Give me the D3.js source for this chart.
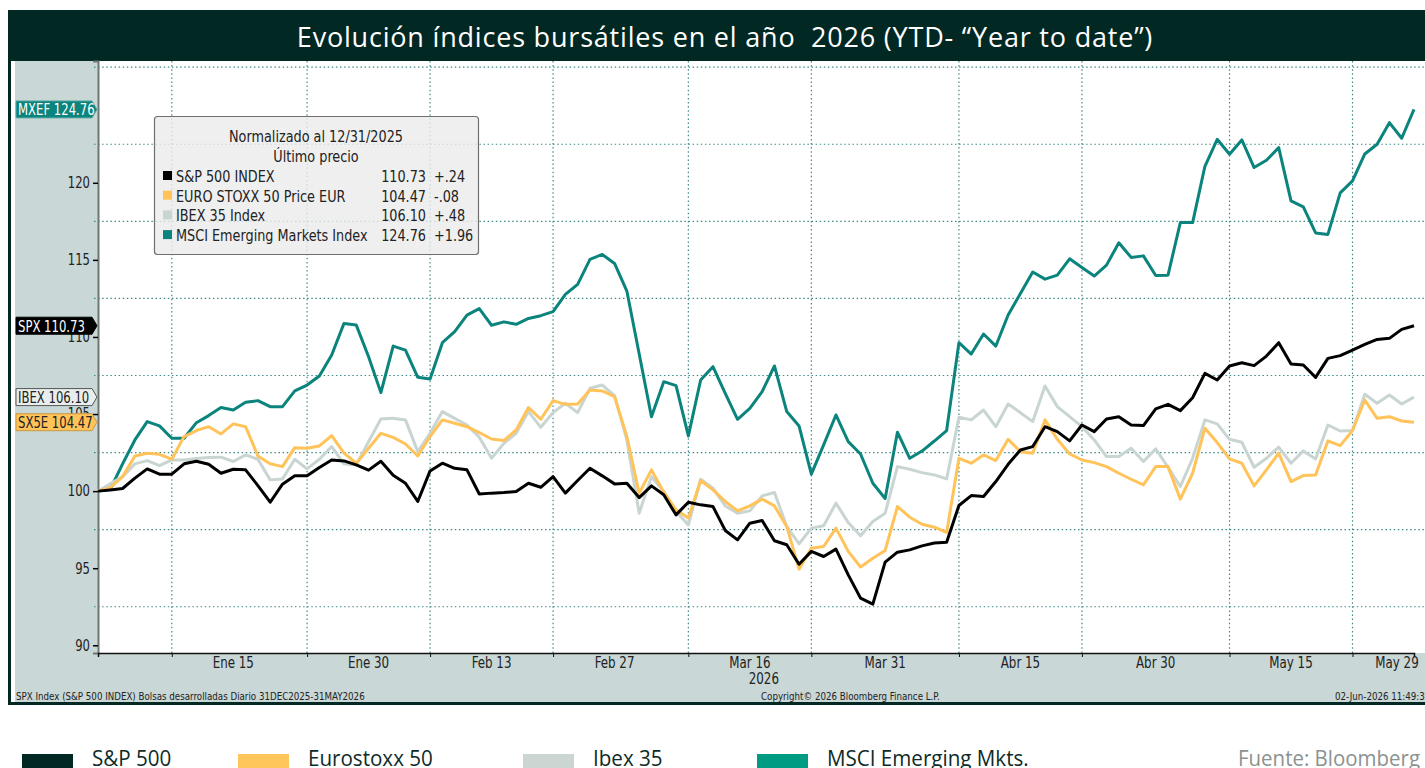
<!DOCTYPE html>
<html>
<head>
<meta charset="utf-8">
<script src="https://cdn.jsdelivr.net/npm/d3@7"></script>
<style>
  body { margin: 0; background: #fff; }
  svg { display: block; }
</style>
</head>
<body>
<svg id="chart"></svg>
<script>
// values, one per weekday 31 Dec 2025 -> 29 May 2026
const spx = [100.00,100.08,100.17,100.84,101.44,101.10,101.10,101.77,101.94,101.74,101.16,101.42,101.38,100.36,99.28,100.45,100.99,100.99,101.53,102.02,101.96,101.70,101.36,101.94,101.03,100.51,99.33,101.31,101.81,101.48,101.38,99.81,99.87,99.91,99.97,100.51,100.25,100.94,99.87,100.69,101.48,100.99,100.47,100.51,99.58,100.34,99.76,98.46,99.28,99.11,99.00,97.45,96.84,97.92,98.09,96.78,96.52,95.26,96.09,95.76,96.24,94.57,93.06,92.67,95.39,96.04,96.19,96.45,96.63,96.69,99.07,99.71,99.65,100.62,101.74,102.67,102.89,104.18,103.86,103.26,104.29,103.86,104.68,104.83,104.29,104.25,105.33,105.63,105.22,106.06,107.64,107.21,108.12,108.33,108.14,108.76,109.63,108.25,108.18,107.38,108.61,108.79,109.15,109.52,109.84,109.91,110.49,110.73];
const sx5e = [100.00,100.23,100.94,102.28,102.46,102.39,102.07,103.54,103.93,104.18,103.71,104.36,104.18,102.28,101.77,101.59,102.82,102.78,102.93,103.60,102.46,101.81,102.78,103.75,103.49,103.06,102.28,103.54,104.62,104.40,104.18,103.80,103.38,103.28,103.97,105.42,104.66,105.87,105.63,105.65,106.56,106.50,106.13,103.54,99.86,101.38,99.93,98.79,98.25,100.69,100.08,99.33,98.72,99.04,99.48,99.04,97.71,94.94,96.30,96.41,97.60,96.09,95.08,95.65,96.15,99.00,98.31,97.85,97.66,97.32,102.13,101.81,102.35,101.98,103.36,102.56,102.46,104.62,103.36,102.41,102.02,101.85,101.59,101.16,100.77,100.40,101.59,101.59,99.48,101.16,104.08,103.15,102.09,101.81,100.34,101.38,102.46,100.62,101.01,101.05,103.26,102.95,103.93,105.91,104.72,104.83,104.55,104.47];
const ibex = [100.00,100.47,100.94,101.77,101.98,101.66,102.02,102.02,102.11,102.18,102.20,101.92,102.35,102.07,100.73,100.79,102.07,101.44,102.07,102.89,101.77,101.70,103.21,104.68,104.72,104.62,102.56,103.75,105.16,104.72,104.29,103.50,102.13,103.10,103.75,105.16,104.14,105.09,105.70,105.09,106.67,106.88,106.19,103.32,98.57,100.94,99.97,98.68,97.81,100.77,100.19,99.04,98.57,98.72,99.69,99.91,97.71,96.58,97.60,97.75,99.22,97.96,97.10,98.03,98.57,101.59,101.42,101.20,101.05,100.79,104.79,104.62,105.26,104.18,105.65,105.09,104.51,106.82,105.48,104.83,104.18,103.32,102.24,102.24,102.78,101.92,102.74,101.55,100.30,102.13,104.62,104.36,103.36,103.17,101.55,102.13,102.85,101.81,102.61,102.09,104.29,103.90,103.93,106.28,105.70,106.24,105.65,106.10];
const mxef = [100.00,100.12,101.77,103.32,104.51,104.23,103.43,103.43,104.44,104.90,105.42,105.26,105.76,105.87,105.48,105.48,106.50,106.88,107.47,108.83,110.88,110.77,108.72,106.39,109.41,109.15,107.38,107.27,109.63,110.34,111.42,111.84,110.76,110.98,110.82,111.20,111.38,111.64,112.76,113.41,115.03,115.35,114.77,112.98,108.91,104.83,107.10,106.84,103.58,107.21,108.07,106.34,104.66,105.37,106.45,108.12,105.16,104.23,101.10,103.00,104.94,103.21,102.41,100.51,99.52,103.82,102.13,102.60,103.25,103.93,109.63,108.89,110.19,109.41,111.42,112.82,114.21,113.75,114.01,115.07,114.51,113.95,114.66,116.11,115.16,115.26,113.99,114.01,117.42,117.42,121.07,122.82,121.85,122.78,120.99,121.46,122.28,118.83,118.44,116.75,116.65,119.35,120.12,121.87,122.50,123.90,122.89,124.76];

const seriesNames = ["S&P 500 INDEX", "EURO STOXX 50 Price EUR", "IBEX 35 Index", "MSCI Emerging Markets Index"];
const tickers = ["SPX", "SX5E", "IBEX", "MXEF"];
const lastPrices = ["110.73", "104.47", "106.10", "124.76"];
const changes = ["+.24", "-.08", "+.48", "+1.96"];
const bottomNames = ["S&P 500", "Eurostoxx 50", "Ibex 35", "MSCI Emerging Mkts."];

const labelDates = ["2026-01-15", "2026-01-30", "2026-02-13", "2026-02-27", "2026-03-16", "2026-03-31", "2026-04-15", "2026-04-30", "2026-05-15", "2026-05-29"];
const labelTexts = ["Ene 15", "Ene 30", "Feb 13", "Feb 27", "Mar 16", "Mar 31", "Abr 15", "Abr 30", "May 15", "May 29"];
const gridDates = ["2026-01-08", "2026-01-23", "2026-02-06", "2026-02-20", "2026-03-09", "2026-03-23", "2026-04-08", "2026-04-22", "2026-05-08", "2026-05-22"];
const yTicks = [90, 95, 100, 105, 110, 115, 120];
const yGrid = [92.5, 97.5, 102.5, 107.5, 112.5, 117.5, 122.5, 127.5];

// weekday calendar used by the chart
const dates = [];
for (let d = new Date(Date.UTC(2025, 11, 31)); d <= new Date(Date.UTC(2026, 4, 29)); d.setUTCDate(d.getUTCDate() + 1)) {
  const wd = d.getUTCDay();
  if (wd !== 0 && wd !== 6) dates.push(d.toISOString().slice(0, 10));
}

const W = 1425, H = 768;
const plot = { left: 98, right: 1425, top: 61, bottom: 653 };
const dark = "#022823";
const panel = "#c9d7d6";
const colors = { spx: "#000000", sx5e: "#ffc35a", ibex: "#c9d5d2", mxef: "#0a847c" };
const seriesColors = [colors.spx, colors.sx5e, colors.ibex, colors.mxef];
const bbFont = "'Liberation Sans Narrow', 'DejaVu Sans Condensed', 'Arial Narrow', sans-serif";

// squeeze text horizontally to imitate the narrow Bloomberg face
function condense(sel, k) {
  sel.each(function () {
    const w = this.getComputedTextLength();
    d3.select(this).attr("textLength", w * k).attr("lengthAdjust", "spacingAndGlyphs");
  });
}

const svg = d3.select("#chart").attr("width", W).attr("height", H);

const x = d3.scaleLinear().domain([0, dates.length - 1]).range([plot.left, 1414]);
const y = d3.scaleLinear().domain([89.5, 127.9]).range([plot.bottom, plot.top]);
const xi = (iso) => dates.indexOf(iso);

// frame
svg.append("rect").attr("x", 0).attr("y", 0).attr("width", W).attr("height", H).attr("fill", "#fff");
svg.append("rect").attr("x", 8).attr("y", 10).attr("width", W - 8).attr("height", 51).attr("fill", dark);
svg.append("rect").attr("x", 8).attr("y", 61).attr("width", 3).attr("height", 644).attr("fill", dark);
svg.append("rect").attr("x", 15).attr("y", 61).attr("width", W - 15).attr("height", 641).attr("fill", panel);
svg.append("rect").attr("x", 8).attr("y", 702).attr("width", W - 8).attr("height", 3).attr("fill", dark);
svg.append("rect")
  .attr("x", plot.left).attr("y", plot.top)
  .attr("width", plot.right - plot.left).attr("height", plot.bottom - plot.top)
  .attr("fill", "#fff");

svg.append("text")
  .attr("x", 725).attr("y", 47)
  .attr("text-anchor", "middle")
  .style("font-family", "'Open Sans', sans-serif")
  .style("font-size", "27px")
  .style("fill", "#fff")
  .style("letter-spacing", "0.8px")
  .style("white-space", "pre")
  .text("Evolución índices bursátiles en el año  2026 (YTD- “Year to date”)");

// grid
const grid = svg.append("g");
grid.selectAll("line.h").data(yGrid).enter().append("line")
  .attr("x1", plot.left - 4).attr("x2", plot.right)
  .attr("y1", (d) => y(d)).attr("y2", (d) => y(d))
  .attr("stroke", "#3f8a87").attr("stroke-width", 1.2)
  .attr("stroke-dasharray", "1.5 2.6");
grid.selectAll("line.v").data(gridDates).enter().append("line")
  .attr("x1", (d) => x(xi(d))).attr("x2", (d) => x(xi(d)))
  .attr("y1", plot.top).attr("y2", plot.bottom)
  .attr("stroke", "#3f8a87").attr("stroke-width", 1.2)
  .attr("stroke-dasharray", "1.5 2.6");

// axes
const yAxis = svg.append("g")
  .attr("transform", `translate(${plot.left},0)`)
  .call(d3.axisLeft(y).tickValues(yTicks).tickSize(5).tickPadding(3));
yAxis.select(".domain").attr("stroke", "#6e7675").attr("stroke-width", 2);
yAxis.selectAll(".tick line").attr("stroke", "#000").attr("stroke-width", 1.5);
yAxis.selectAll(".tick text")
  .style("font-family", bbFont).style("font-size", "15px").style("fill", "#222")
  .call(condense, 0.86);

const xAxis = svg.append("g")
  .attr("transform", `translate(0,${plot.bottom})`)
  .call(d3.axisBottom(x).tickValues(gridDates.map(xi)).tickSize(4).tickFormat(""));
xAxis.select(".domain").attr("stroke", "#111").attr("stroke-width", 1.5);
xAxis.selectAll(".tick line").attr("stroke", "#111");

svg.append("g").selectAll("text").data(labelDates).enter().append("text")
  .attr("x", (d) => Math.min(x(xi(d)), 1397))
  .attr("y", 668)
  .attr("text-anchor", "middle")
  .style("font-family", bbFont).style("font-size", "15px").style("fill", "#222")
  .text((d, i) => labelTexts[i])
  .call(condense, 0.88);
svg.append("text")
  .attr("x", x(xi("2026-03-16")) + 14).attr("y", 684)
  .attr("text-anchor", "middle")
  .style("font-family", bbFont).style("font-size", "15px").style("fill", "#222")
  .text("2026")
  .call(condense, 0.88);

// footer
const foot = svg.append("g")
  .style("font-family", bbFont).style("font-size", "10.5px").style("fill", "#222");
foot.append("text").attr("x", 16).attr("y", 700)
  .text("SPX Index (S&P 500 INDEX) Bolsas desarrolladas Diario 31DEC2025-31MAY2026");
foot.append("text").attr("x", 761).attr("y", 700)
  .text("Copyright© 2026 Bloomberg Finance L.P.");
foot.append("text").attr("x", 1335).attr("y", 700)
  .text("02-Jun-2026 11:49:3");
foot.selectAll("text").call(condense, 0.92);

// legend box
const leg = svg.append("g").style("font-family", bbFont).style("font-size", "15px").style("fill", "#222");
leg.append("rect")
  .attr("x", 154.5).attr("y", 116.5).attr("width", 324).attr("height", 138).attr("rx", 3)
  .attr("fill", "#ebebeb").attr("fill-opacity", 0.8)
  .attr("stroke", "#6f6f6f").attr("stroke-width", 1.2);
leg.append("text").attr("x", 316).attr("y", 142).attr("text-anchor", "middle").text("Normalizado al 12/31/2025");
leg.append("text").attr("x", 316).attr("y", 162).attr("text-anchor", "middle").text("Último precio");
const rows = leg.selectAll("g.row").data(seriesNames).enter().append("g")
  .attr("transform", (d, i) => `translate(0,${182 + i * 19.7})`);
rows.append("rect").attr("x", 163).attr("y", -11).attr("width", 9).attr("height", 9)
  .attr("fill", (d, i) => seriesColors[i]);
rows.append("text").attr("x", 176).text((d) => d);
rows.append("text").attr("x", 426).attr("text-anchor", "end").text((d, i) => lastPrices[i]);
rows.append("text").attr("x", 434).text((d, i) => changes[i]);
leg.selectAll("text").call(condense, 0.95);

// series lines
const line = d3.line().x((d, i) => x(i)).y((d) => y(d));
const drawOrder = [
  { data: mxef, color: colors.mxef },
  { data: ibex, color: colors.ibex },
  { data: sx5e, color: colors.sx5e },
  { data: spx, color: colors.spx },
];
svg.append("g").selectAll("path").data(drawOrder).enter().append("path")
  .attr("d", (d) => line(d.data))
  .attr("fill", "none")
  .attr("stroke", (d) => d.color)
  .attr("stroke-width", 3)
  .attr("stroke-linejoin", "round");

// last value tags on the left axis
const tagStyle = [
  { fill: "#000", stroke: "#000", text: "#fff" },
  { fill: "#ffc35a", stroke: "#c99a45", text: "#222" },
  { fill: "#e9eeed", stroke: "#555", text: "#222" },
  { fill: "#0a847c", stroke: "#5aaaa4", text: "#fff" },
];
const lastVals = [spx, sx5e, ibex, mxef].map((s) => s[s.length - 1]);
const tags = svg.append("g").selectAll("g").data(tickers).enter().append("g")
  .attr("transform", (d, i) => `translate(0,${y(lastVals[i])})`);
tags.append("path")
  .attr("d", "M16,-8.5 H92 L97,0 L92,8.5 H16 Z")
  .attr("fill", (d, i) => tagStyle[i].fill)
  .attr("stroke", (d, i) => tagStyle[i].stroke)
  .attr("stroke-width", 1);
tags.append("text")
  .attr("x", 18).attr("y", 6)
  .style("font-family", bbFont).style("font-size", "16px")
  .style("fill", (d, i) => tagStyle[i].text)
  .text((d, i) => `${d} ${lastPrices[i]}`)
  .call(condense, 0.81);

// bottom legend
const bottomColors = [dark, "#ffc65c", "#cbd6d3", "#009b83"];
const bx = [22, 238, 523, 757];
const bl = svg.append("g");
bl.selectAll("rect").data(bottomNames).enter().append("rect")
  .attr("x", (d, i) => bx[i]).attr("y", 754).attr("width", 51).attr("height", 16)
  .attr("fill", (d, i) => bottomColors[i]);
bl.selectAll("text").data(bottomNames).enter().append("text")
  .attr("x", (d, i) => bx[i] + 70).attr("y", 766)
  .style("font-family", "'Open Sans', sans-serif").style("font-size", "21px")
  .style("fill", "#0e2b27")
  .text((d) => d)
  .call(condense, 0.98);
svg.append("text").attr("x", 1238).attr("y", 766)
  .style("font-family", "'Open Sans', sans-serif").style("font-size", "21px")
  .style("fill", "#8b9290")
  .attr("textLength", 182).attr("lengthAdjust", "spacingAndGlyphs")
  .text("Fuente: Bloomberg");
</script>
</body>
</html>
